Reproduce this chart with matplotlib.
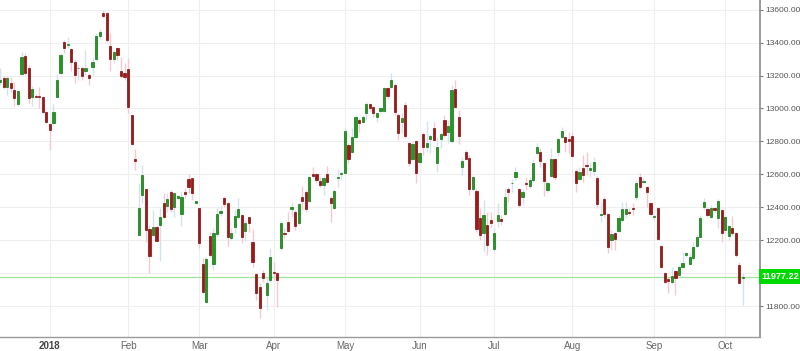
import numpy as np
import pandas as pd
import matplotlib
matplotlib.use("Agg")
import matplotlib.pyplot as plt

# ========= DATA =========
START = "2017-12-08"
END = "2018-10-09"
HOLIDAYS = ["2017-12-25", "2017-12-26", "2018-01-01", "2018-03-30", "2018-04-02",
            "2018-05-01", "2018-05-21", "2018-10-03"]

opens = [
    13160, 13187, 13128, 13153, 13112, 13025, 13209, 13321, 13248, 13068,
    13078, 13076, 13072, 12981, 12904, 12914, 13068, 13218, 13406, 13384,
    13361, 13284, 13244, 13248, 13228, 13203, 13254, 13298, 13440, 13582,
    13578, 13380, 13299, 13365, 13228, 13213, 13240, 12960, 12691, 12231,
    12474, 12509, 12266, 12231, 12282, 12292, 12424, 12408, 12495, 12404,
    12455, 12357, 12495, 12570, 12576, 12428, 12393, 12055, 11826, 12225,
    12055, 12238, 12363, 12458, 12424, 12211, 12282, 12343, 12353, 12258,
    12339, 12191, 11994, 11917, 11999, 11867, 11958, 12004, 12003, 12150,
    12246, 12312, 12387, 12373, 12302, 12464, 12495, 12440, 12600, 12600,
    12559, 12535, 12600, 12458, 12393, 12576, 12602, 12610, 12778, 12738,
    12829, 12930, 12920, 12975, 13025, 13011, 12946, 12985, 12985, 13122,
    13132, 13142, 12960, 12916, 13021, 12792, 12693, 12802, 12677, 12845,
    12764, 12813, 12879, 12667, 12813, 12930, 12859, 12804, 13120, 12950,
    12642, 12733, 12701, 12509, 12501, 12337, 12246, 12292, 12323, 12144,
    12318, 12326, 12359, 12511, 12545, 12582, 12509, 12460, 12549, 12529,
    12566, 12727, 12738, 12667, 12505, 12590, 12691, 12734, 12829, 12825,
    12813, 12833, 12622, 12570, 12636, 12657, 12626, 12620, 12576, 12353,
    12448, 12360, 12201, 12241, 12258, 12323, 12359, 12373, 12397, 12460,
    12582, 12551, 12521, 12424, 12339, 12393, 12165, 11999, 11962, 11944,
    12013, 11988, 12035, 12110, 12055, 12090, 12165, 12221, 12399, 12387,
    12343, 12397, 12332, 12383, 12262, 12225, 12272, 12241, 12049, 11968,
]
highs = [
    13244, 13197, 13197, 13189, 13163, 13112, 13345, 13335, 13264, 13137,
    13086, 13133, 13076, 12985, 12910, 13027, 13209, 13335, 13416, 13432,
    13365, 13294, 13264, 13258, 13355, 13213, 13305, 13456, 13485, 13598,
    13588, 13456, 13355, 13375, 13311, 13278, 13305, 12960, 12752, 12549,
    12657, 12509, 12292, 12383, 12292, 12393, 12484, 12489, 12505, 12495,
    12474, 12501, 12515, 12602, 12576, 12440, 12393, 12090, 12100, 12252,
    12272, 12404, 12408, 12468, 12434, 12272, 12383, 12458, 12359, 12323,
    12343, 12266, 11999, 11942, 12019, 11978, 12150, 12069, 12007, 12318,
    12272, 12373, 12434, 12383, 12424, 12529, 12505, 12596, 12647, 12610,
    12586, 12590, 12651, 12468, 12509, 12630, 12616, 12879, 12788, 12879,
    12960, 12940, 12960, 13041, 13035, 13015, 12981, 13011, 13132, 13132,
    13213, 13157, 12970, 12970, 13041, 12798, 12798, 12808, 12738, 12859,
    12926, 12845, 12920, 12825, 12859, 12960, 12930, 13143, 13173, 12991,
    12707, 12748, 12717, 12596, 12515, 12393, 12444, 12373, 12373, 12272,
    12428, 12353, 12515, 12521, 12572, 12647, 12515, 12509, 12582, 12586,
    12691, 12788, 12758, 12677, 12561, 12758, 12697, 12825, 12889, 12833,
    12859, 12859, 12630, 12647, 12717, 12738, 12677, 12707, 12590, 12434,
    12460, 12365, 12262, 12252, 12353, 12434, 12434, 12393, 12424, 12565,
    12606, 12576, 12529, 12434, 12359, 12404, 12171, 12009, 11978, 12039,
    12019, 12049, 12130, 12130, 12120, 12191, 12231, 12353, 12454, 12403,
    12413, 12403, 12448, 12387, 12353, 12290, 12345, 12250, 12065, 11999,
]
lows = [
    13143, 13116, 13082, 13102, 13015, 13015, 13203, 13203, 13031, 13015,
    13062, 13001, 12971, 12910, 12748, 12906, 13062, 13209, 13339, 13365,
    13230, 13157, 13173, 13173, 13203, 13143, 13203, 13290, 13425, 13548,
    13406, 13230, 13274, 13294, 13183, 13173, 12971, 12778, 12626, 12231,
    12424, 12191, 12003, 12221, 12197, 12075, 12333, 12373, 12373, 12343,
    12444, 12286, 12454, 12489, 12444, 12418, 12150, 11877, 11816, 12100,
    12019, 12221, 12347, 12404, 12165, 12201, 12246, 12327, 12185, 12197,
    12252, 12039, 11836, 11725, 11948, 11776, 11948, 11958, 11796, 12140,
    12211, 12252, 12339, 12262, 12292, 12383, 12373, 12434, 12586, 12549,
    12525, 12474, 12549, 12312, 12387, 12525, 12565, 12606, 12667, 12728,
    12823, 12859, 12910, 12930, 12987, 12950, 12920, 12975, 12981, 13056,
    13122, 12960, 12808, 12853, 12819, 12651, 12687, 12549, 12657, 12717,
    12738, 12732, 12802, 12616, 12758, 12829, 12788, 12788, 13001, 12784,
    12596, 12687, 12474, 12499, 12252, 12201, 12130, 12110, 12282, 12136,
    12282, 12292, 12353, 12434, 12495, 12566, 12403, 12414, 12505, 12515,
    12555, 12717, 12647, 12468, 12495, 12586, 12566, 12711, 12819, 12738,
    12727, 12703, 12495, 12566, 12555, 12596, 12586, 12596, 12393, 12312,
    12340, 12124, 12140, 12140, 12252, 12312, 12333, 12353, 12353, 12444,
    12515, 12545, 12403, 12353, 12323, 12201, 12029, 11938, 11877, 11934,
    11867, 11978, 12029, 12100, 12049, 12079, 12156, 12217, 12383, 12343,
    12332, 12373, 12272, 12191, 12241, 12200, 12231, 12100, 11940, 11806,
]
closes = [
    13175, 13128, 13187, 13122, 13066, 13106, 13315, 13214, 13066, 13116,
    13072, 13070, 12977, 12916, 12869, 12981, 13173, 13325, 13369, 13392,
    13280, 13203, 13248, 13197, 13248, 13183, 13284, 13440, 13467, 13562,
    13416, 13299, 13341, 13325, 13197, 13189, 13007, 12784, 12683, 12393,
    12594, 12262, 12104, 12282, 12197, 12339, 12343, 12450, 12387, 12489,
    12468, 12464, 12480, 12525, 12489, 12438, 12185, 11887, 12084, 12110,
    12246, 12359, 12379, 12420, 12221, 12241, 12347, 12387, 12221, 12306,
    12306, 12069, 11881, 11786, 11968, 11942, 12096, 12002, 11958, 12306,
    12240, 12258, 12403, 12288, 12420, 12440, 12387, 12586, 12590, 12565,
    12535, 12576, 12555, 12424, 12501, 12582, 12610, 12865, 12691, 12825,
    12950, 12914, 12946, 13025, 13001, 12975, 12975, 13001, 13122, 13076,
    13173, 12981, 12853, 12940, 12833, 12667, 12784, 12606, 12727, 12768,
    12788, 12833, 12808, 12768, 12845, 12839, 12894, 13112, 13011, 12833,
    12681, 12693, 12509, 12582, 12266, 12231, 12353, 12171, 12302, 12242,
    12353, 12318, 12464, 12495, 12549, 12612, 12414, 12494, 12539, 12566,
    12667, 12768, 12683, 12561, 12549, 12691, 12582, 12813, 12863, 12794,
    12804, 12711, 12545, 12616, 12596, 12649, 12636, 12677, 12420, 12358,
    12358, 12160, 12237, 12205, 12333, 12387, 12387, 12367, 12391, 12545,
    12525, 12561, 12491, 12359, 12347, 12207, 12039, 11948, 11954, 11984,
    11972, 12035, 12059, 12120, 12100, 12160, 12221, 12333, 12434, 12353,
    12393, 12383, 12438, 12245, 12343, 12286, 12241, 12110, 11942, 11977.22,
]
last_price = 11977.22
price_ticks = [11800, 12000, 12200, 12400, 12600, 12800, 13000, 13200, 13400, 13600]
month_labels = ["2018", "Feb", "Mar", "Apr", "May", "Jun", "Jul", "Aug", "Sep", "Oct"]

# ========= FRAME =========
dates = pd.bdate_range(START, END)
dates = dates[~dates.isin(pd.to_datetime(HOLIDAYS))]
df = pd.DataFrame({"Open": opens, "High": highs, "Low": lows, "Close": closes}, index=dates)
idx = np.arange(len(df))

# first trading day of each month from Jan 2018
month_start = df.index.to_series().groupby(df.index.to_period("M")).head(1)
month_start = month_start[month_start >= "2018-01-01"]
tick_pos = [df.index.get_loc(d) for d in month_start]

GREEN = "#229a22"
GREEN_EDGE = "#137313"
RED = "#a51616"
RED_EDGE = "#7c0d0d"
GREEN_WICK = "#d3e3ec"
RED_WICK = "#f7c8d0"

# ========= PLOT =========
plt.rcParams["font.family"] = ["Liberation Sans", "DejaVu Sans"]
fig = plt.figure(figsize=(8, 3.51), dpi=100)
ax = fig.add_axes([0, 14 / 351, 760 / 800, 337 / 351])

up = df["Close"].values >= df["Open"].values
wick_cols = np.where(up, GREEN_WICK, RED_WICK)
ax.vlines(idx, df["Low"], df["High"], colors=wick_cols, linewidth=1.0, zorder=2)

body_lo = np.minimum(df["Open"].values, df["Close"].values)
body_h = np.maximum(np.abs(df["Close"].values - df["Open"].values), 4)
ax.bar(idx, body_h, bottom=body_lo, width=0.62,
       color=np.where(up, GREEN, RED), edgecolor=np.where(up, GREEN_EDGE, RED_EDGE),
       linewidth=0.5, zorder=3)

# last price line + tag on the price axis
ax.axhline(last_price, color="#9fe59f", linewidth=0.9, zorder=1)
ax.text(1.002, last_price, f"{last_price:.2f}", transform=ax.get_yaxis_transform(),
        ha="left", va="center", color="white", fontsize=6.6, fontweight="bold",
        bbox=dict(boxstyle="square,pad=0.32", fc="#00d900", ec="none"), zorder=5,
        clip_on=False)

ax.set_xlim(-0.05, 213.8)
ax.set_ylim(11612, 13659)

ax.yaxis.tick_right()
ax.set_yticks(price_ticks)
ax.set_yticklabels([f"{p:.2f}" for p in price_ticks])
ax.tick_params(axis="y", colors="#777777", labelcolor="#555555", labelsize=6.0,
               length=2.5, width=0.8, pad=1.0)

ax.set_xticks(tick_pos)
ax.set_xticklabels(month_labels)
ax.tick_params(axis="x", length=0, labelcolor="#666666", labelsize=7, pad=3)
ax.get_xticklabels()[0].set_fontweight("bold")
ax.get_xticklabels()[0].set_color("#444444")

ax.grid(True, color="#efefef", linewidth=0.8, zorder=0)
ax.set_axisbelow(True)

for s in ["top", "left"]:
    ax.spines[s].set_visible(False)
ax.spines["right"].set_color("#8a8a8a")
ax.spines["right"].set_linewidth(1.2)
ax.spines["bottom"].set_color("#9a9a9a")
ax.spines["bottom"].set_linewidth(1.0)

fig.savefig("out.png", dpi=100)
